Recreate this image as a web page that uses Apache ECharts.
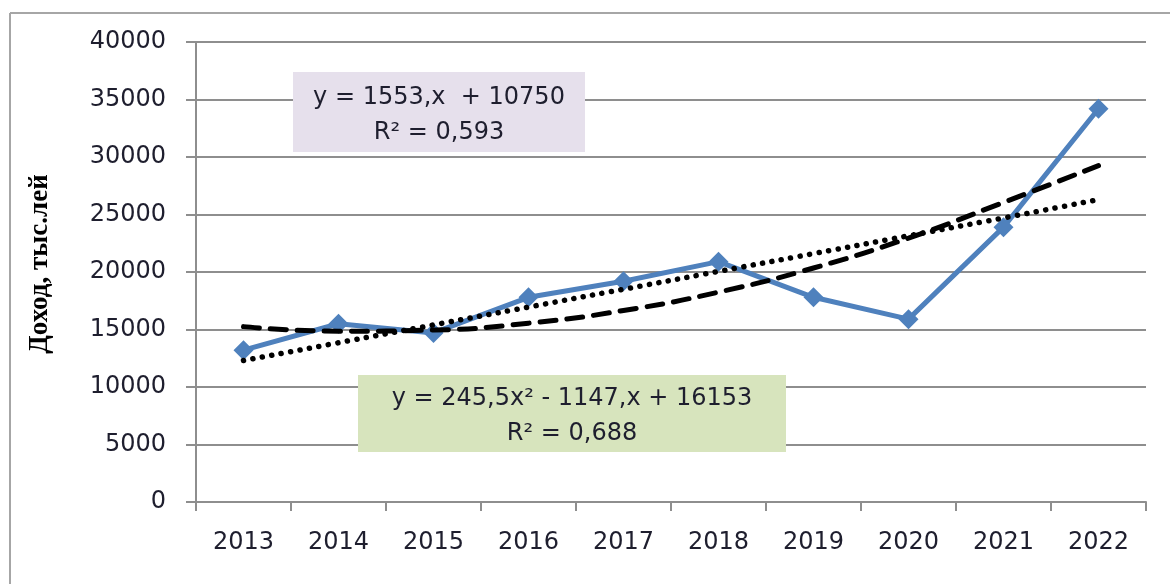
<!DOCTYPE html>
<html>
<head>
<meta charset="utf-8">
<script src="https://cdn.jsdelivr.net/npm/echarts@6/dist/echarts.min.js"></script>
<style>
  html, body { margin: 0; padding: 0; background: #fff; overflow: hidden; }
  #chart { width: 1172px; height: 584px; }
</style>
</head>
<body>
<div id="chart"></div>
<script>
// values
const years = ['2013', '2014', '2015', '2016', '2017', '2018', '2019', '2020', '2021', '2022']
const income = [13200, 15500, 14700, 17800, 19200, 20900, 17800, 15900, 23900, 34200]
const linearTrend = [12300, 13850, 15400, 16950, 18500, 20050, 21600, 23150, 24700, 26300]
const polyTrend = [15250, 14850, 14950, 15550, 16650, 18250, 20350, 22950, 26050, 29250]

const linearLabel = ['y = 1553,x  + 10750', 'R² = 0,593']
const polyLabel = ['y = 245,5x² - 1147,x + 16153', 'R² = 0,688']

const axisGray = '#8e8e8e'
const textColor = '#1e1e2e'
const blue = '#4f81bd'

const chart = echarts.init(document.getElementById('chart'), null, { renderer: 'canvas' })

function eqBox(x, y, w, h, fill, lines) {
  return {
    type: 'group',
    x: x,
    y: y,
    z: 100,
    children: [
      { type: 'rect', z: 100, shape: { x: 0, y: 0, width: w, height: h }, style: { fill: fill } },
      {
        type: 'text',
        z: 101,
        x: w / 2,
        y: h / 2 + 3,
        style: {
          text: lines.join('\n'),
          fill: textColor,
          font: '24px "DejaVu Sans"',
          lineHeight: 35,
          align: 'center',
          verticalAlign: 'middle'
        }
      }
    ]
  }
}

const frameStyle = { stroke: '#a6a6a6', lineWidth: 2 }

chart.setOption({
  animation: false,
  backgroundColor: '#fff',
  grid: { left: 196, right: 26, top: 42, bottom: 82 },
  xAxis: {
    type: 'category',
    data: years,
    boundaryGap: true,
    axisLine: { lineStyle: { color: axisGray, width: 2 } },
    axisTick: { show: true, length: 9, lineStyle: { color: axisGray, width: 2 } },
    axisLabel: { color: textColor, fontSize: 24, fontFamily: 'DejaVu Sans', margin: 29 },
    splitLine: { show: false }
  },
  yAxis: {
    type: 'value',
    min: 0,
    max: 40000,
    interval: 5000,
    name: 'Доход, тыс.лей',
    nameLocation: 'middle',
    nameRotate: 90,
    nameGap: 142,
    nameTextStyle: { color: '#000', fontSize: 27, fontWeight: 'bold', fontFamily: 'Liberation Serif', padding: [0, 0, 0, 16] },
    axisLine: { show: true, lineStyle: { color: axisGray, width: 2 } },
    axisTick: { show: true, length: 10, lineStyle: { color: axisGray, width: 2 } },
    axisLabel: {
      color: textColor,
      fontSize: 24,
      fontFamily: 'DejaVu Sans',
      margin: 30,
      formatter: (v) => String(v)
    },
    splitLine: { lineStyle: { color: axisGray, width: 2 } }
  },
  graphic: [
    { type: 'line', z: -10, shape: { x1: 10, y1: 13, x2: 1170, y2: 13 }, style: frameStyle },
    { type: 'line', z: -10, shape: { x1: 10, y1: 13, x2: 10, y2: 584 }, style: frameStyle },
    eqBox(293, 72, 292, 80, '#e6e0ec', linearLabel),
    eqBox(358, 375, 428, 77, '#d7e4bd', polyLabel)
  ],
  series: [
    {
      name: 'Доход',
      type: 'line',
      data: income,
      symbol: 'diamond',
      symbolSize: [20, 20],
      lineStyle: { color: blue, width: 5 },
      itemStyle: { color: blue },
      z: 2
    },
    {
      name: 'Линейная',
      type: 'line',
      data: linearTrend,
      showSymbol: false,
      symbol: 'none',
      smooth: true,
      lineStyle: { color: '#000', width: 5.5, type: [0.1, 9.5], cap: 'round' },
      z: 3
    },
    {
      name: 'Полиномиальная',
      type: 'line',
      data: polyTrend,
      showSymbol: false,
      symbol: 'none',
      smooth: true,
      lineStyle: { color: '#000', width: 5, type: [16, 11], cap: 'round' },
      z: 3
    }
  ]
})
</script>
</body>
</html>
